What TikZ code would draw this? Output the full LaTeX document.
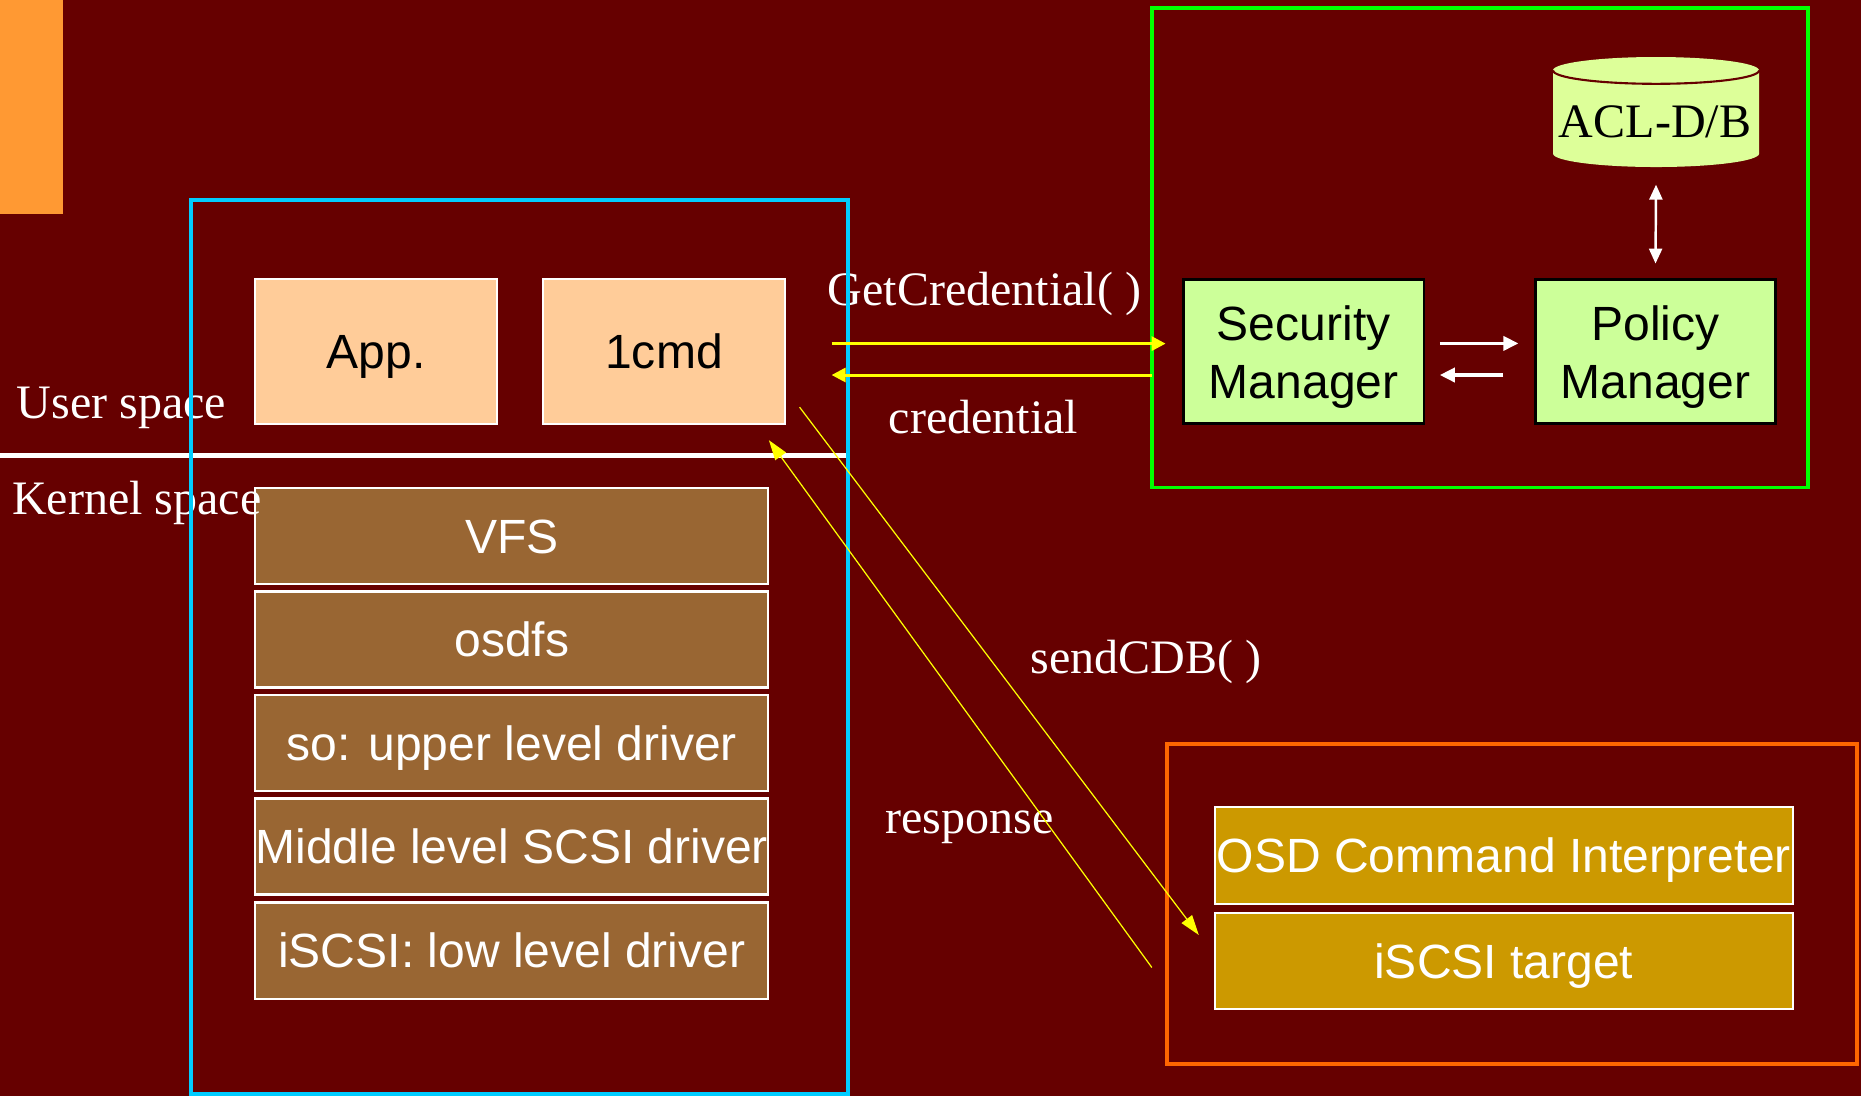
\documentclass[tikz,border=0pt]{standalone}
\usepackage{fontspec}
\setmainfont{Liberation Serif}
\newfontfamily\arialf{Liberation Sans}
\usetikzlibrary{arrows.meta,calc}
\definecolor{bgred}{HTML}{660000}
\definecolor{stripor}{HTML}{FF9933}
\definecolor{cyanb}{HTML}{00CCFF}
\definecolor{greenb}{HTML}{00FF00}
\definecolor{orangeb}{HTML}{FF6600}
\definecolor{peach}{HTML}{FFCC99}
\definecolor{kbrown}{HTML}{996633}
\definecolor{mgrgreen}{HTML}{CCFF99}
\definecolor{cylfill}{HTML}{DDFF99}
\definecolor{osdgold}{HTML}{CC9900}
\definecolor{yel}{HTML}{FFFF00}
\begin{document}
\begin{tikzpicture}[x=0.01cm,y=-0.01cm,
  lbl/.style={text=white, font=\fontsize{13.66}{16}\selectfont, inner sep=0pt, anchor=base west},
  boxbase/.style={inner sep=0pt, outer sep=0pt, font=\arialf\fontsize{13.66}{16.5}\selectfont, text height=9.8pt, text depth=0pt},
  userbox/.style={boxbase, fill=peach, draw=white, line width=0.6pt, minimum width=2.41cm, minimum height=1.45cm, text=black},
  kbox/.style={boxbase, fill=kbrown, draw=white, line width=0.6pt, minimum width=5.125cm, minimum height=0.96cm, text=white},
  mgrbox/.style={inner sep=0pt, outer sep=0pt, font=\arialf\fontsize{13.66}{16.5}\selectfont, text depth=0pt, fill=mgrgreen, draw=black, line width=0.7pt, minimum width=2.40cm, minimum height=1.44cm, align=center, text=black},
  tbox/.style={boxbase, fill=osdgold, draw=white, line width=0.6pt, minimum width=5.776cm, minimum height=0.962cm, text=white},
  container/.style={line width=1.1pt},
  ythick/.style={draw=yel, line width=0.85pt, -{Triangle[length=0.14cm,width=0.14cm]}},
  ythin/.style={draw=yel, line width=0.35pt, -{Triangle[length=0.2cm,width=0.13cm]}},
  warrow/.style={draw=white, line width=1.0pt, -{Triangle[length=0.15cm,width=0.14cm]}},
  wdouble/.style={draw=white, line width=0.7pt, {Triangle[length=0.15cm,width=0.13cm]}-{Triangle[length=0.15cm,width=0.13cm]}}
]
\useasboundingbox (0,0) rectangle (1861,1096);
\fill[bgred] (0,0) rectangle (1861,1096);
\fill[stripor] (0,0) rectangle (63,214);

% user/kernel separator
\draw[white, line width=1.5pt] (0,455.7) -- (848,455.7);

% user space boxes
\node[userbox] (app) at (376,351.6) {App.};
\node[userbox] (cmd) at (664,351.6) {1cmd};

% kernel stack
\node[kbox] (vfs) at (511.8,536) {VFS};
\node[kbox] (osdfs) at (511.8,639.5) {osdfs};
\node[kbox] (so) at (511.8,743) {so: upper level driver};
\node[kbox] (mid) at (511.8,846.5) {Middle level SCSI driver};
\node[kbox] (isc) at (511.8,950.5) {iSCSI: low level driver};

% security side
\node[mgrbox] (sec) at (1303.7,351.6) {Security\\Manager};
\node[mgrbox] (pol) at (1655.5,351.6) {Policy\\Manager};

% ACL database cylinder
\path (1656,112) node[minimum width=2.06cm, minimum height=1.10cm, inner sep=0pt, outer sep=0pt] (acl) {};
\fill[cylfill] (1553,70.4) -- (1553,153.6) arc[start angle=180, end angle=360, x radius=1.03cm, y radius=0.134cm]
  -- (1759,70.4) arc[start angle=0, end angle=180, x radius=1.03cm, y radius=0.134cm] -- cycle;
\draw[bgred, line width=0.6pt] (1553,70.4) arc[start angle=180, end angle=360, x radius=1.03cm, y radius=0.134cm];
\node[lbl, text=black, anchor=base] (acltext) at (1655,137.5) {ACL-D/B};

% target side
\node[tbox] (osd) at (1503.8,855.5) {OSD Command Interpreter};
\node[tbox] (tgt) at (1503.8,961) {iSCSI target};

% containers
\draw[container, orangeb] (1167,743.6) rectangle (1857,1064);
\draw[container, greenb] (1152,8) rectangle (1808,487.5);

% labels
\node[lbl] (us) at (16,418) {User space};
\node[lbl] (ks) at (11.5,514) {Kernel space};
\node[lbl] (getc) at (827,305) {GetCredential( )};
\node[lbl] (cred) at (888,433) {credential};
\node[lbl] (send) at (1030,673) {sendCDB( )};
\node[lbl] (resp) at (884.6,833.5) {response};

% user/kernel container
\draw[container, cyanb] (191,200) rectangle (848,1094);

% white arrows
\draw[wdouble] ($(acl.south)+(0,17.6)$) -- ($(pol.north)+(0,-16)$);
\draw[warrow] ($(sec.east)+(16,-8.2)$) -- ($(pol.west)+(-17,-8.2)$);
\draw[warrow] ($(pol.west)+(-32,23.4)$) -- ($(sec.east)+(16,23.4)$);

% yellow arrows
\draw[ythick] ($(cmd.east)+(47,-8)$) -- ($(sec.west)+(-18,-8)$);
\draw[ythick] ($(sec.west)+(-31.7,23.4)$) -- ($(cmd.east)+(47,23.4)$);
\draw[ythin] ($(cmd.south east)+(15,-17)$) -- ($(tgt.west)+(-16,-26)$);
\draw[ythin] ($(tgt.west)+(-63,6.5)$) -- ($(cmd.south east)+(-15.7,16)$);
\end{tikzpicture}
\end{document}
